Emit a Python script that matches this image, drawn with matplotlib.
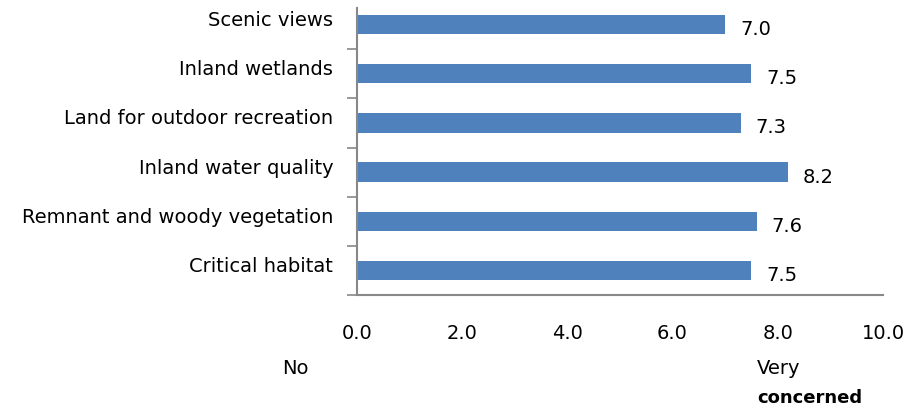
import matplotlib
matplotlib.use("Agg")
import matplotlib.pyplot as plt
import matplotlib.transforms as mtransforms

# categories top to bottom
categories = ["Scenic views", "Inland wetlands", "Land for outdoor recreation",
              "Inland water quality", "Remnant and woody vegetation", "Critical habitat"]
scores = [7.0, 7.5, 7.3, 8.2, 7.6, 7.5]
x_ticks = [0, 2, 4, 6, 8, 10]

plt.rcParams['font.family'] = ['DejaVu Sans']
fs = 14

fig = plt.figure(figsize=(9.08, 4.10), dpi=100)
ax = fig.add_axes([0.393, 0.278, 0.5795, 0.7196])

n = len(categories)
ypos = list(range(n))[::-1]
ax.barh(ypos, scores, height=0.39, color="#4F81BD")

# value labels to the right of each bar
for y, v in zip(ypos, scores):
    ax.text(v + 0.28, y - 0.08, f"{v:.1f}", va="center", ha="left", fontsize=fs)

ax.set_xlim(0, 10)
ax.set_ylim(-0.5, n - 0.5)
ax.set_xticks(x_ticks)
ax.set_xticklabels([f"{t:.1f}" for t in x_ticks], fontsize=fs)
ax.tick_params(axis="x", length=0, pad=20)

ax.set_yticks(ypos)
ax.set_yticklabels(categories, fontsize=fs)
ax.tick_params(axis="y", length=0, pad=17)
# labels sit a bit above the bar centre
shift = mtransforms.ScaledTranslation(0, 5 / 72, fig.dpi_scale_trans)
for lbl in ax.get_yticklabels():
    lbl.set_transform(lbl.get_transform() + shift)

# small tick marks between categories (none at the very top)
ax.set_yticks([y - 0.5 for y in range(n)], minor=True)
ax.tick_params(axis="y", which="minor", length=7, color="#888888", width=1.2)

for s in ["top", "right"]:
    ax.spines[s].set_visible(False)
for s in ["left", "bottom"]:
    ax.spines[s].set_color("#888888")
    ax.spines[s].set_linewidth(1.5)
ax.spines["left"].set_bounds(-0.5, n - 0.5 - 0.16)

fig.text(0.311, 0.102, "No", fontsize=fs, ha="left", va="center")
fig.text(0.834, 0.102, "Very", fontsize=fs, ha="left", va="center")
fig.text(0.834, 0.030, "concerned", fontsize=13, ha="left", va="center", fontweight="bold")

fig.savefig("out.png", dpi=100)
